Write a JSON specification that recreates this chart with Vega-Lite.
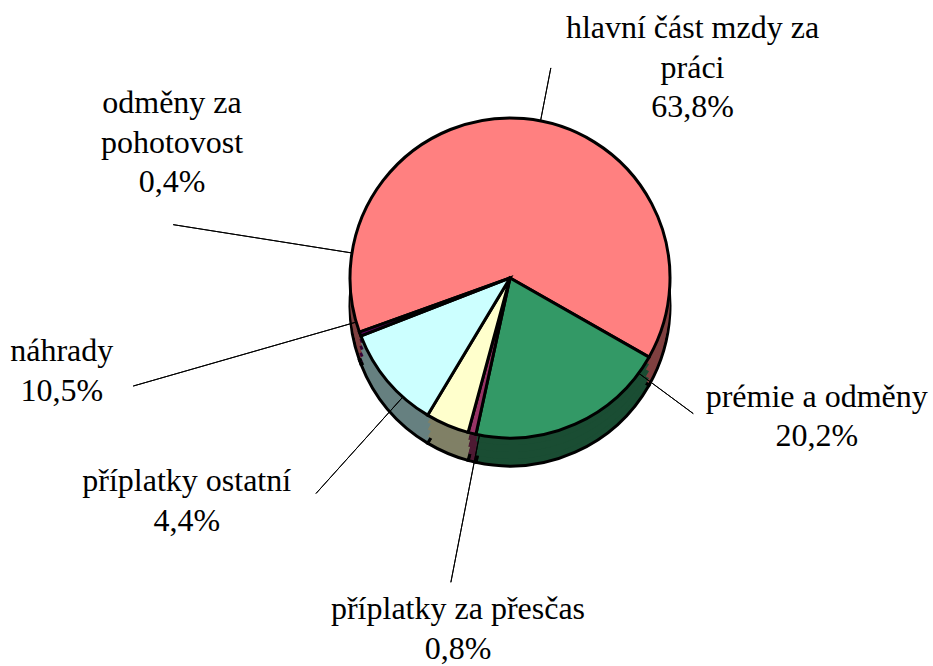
{
  "$schema": "https://vega.github.io/schema/vega-lite/v6.json",
  "autosize": {"type": "none"},
  "width": 846,
  "height": 556,
  "padding": {"left": 87, "top": 0, "right": 0, "bottom": 110},
  "background": "white",
  "config": {"view": {"stroke": null}},
  "data": {
    "values": [
      {"order": 1, "name": "hlavní část mzdy za práci", "value": 63.8, "label": "hlavní část mzdy za\npráci\n63,8%"},
      {"order": 2, "name": "prémie a odměny", "value": 20.2, "label": "prémie a odměny\n20,2%"},
      {"order": 3, "name": "příplatky za přesčas", "value": 0.8, "label": "příplatky  za přesčas\n0,8%"},
      {"order": 4, "name": "příplatky ostatní", "value": 4.4, "label": "příplatky ostatní\n4,4%"},
      {"order": 5, "name": "náhrady", "value": 10.5, "label": "náhrady\n10,5%"},
      {"order": 6, "name": "odměny za pohotovost", "value": 0.4, "label": "odměny za\npohotovost\n0,4%"}
    ]
  },
  "layer": [
    {
      "mark": {"type": "arc", "outerRadius": 160, "yOffset": 28, "stroke": "black", "strokeWidth": 3},
      "encoding": {
        "theta": {"field": "value", "type": "quantitative", "stack": true, "scale": {"domain": [0, 100.1], "range": [4.36681, 10.65]}},
        "order": {"field": "order", "type": "quantitative"},
        "color": {"field": "name", "type": "nominal", "legend": null, "scale": {"domain": ["hlavní část mzdy za práci", "prémie a odměny", "příplatky za přesčas", "příplatky ostatní", "náhrady", "odměny za pohotovost"], "range": ["#804040", "#1A4D33", "#4D1A33", "#808066", "#668080", "#330033"]}}
      }
    },
    {
      "mark": {"type": "arc", "outerRadius": 160, "yOffset": 21},
      "encoding": {
        "theta": {"field": "value", "type": "quantitative", "stack": true, "scale": {"domain": [0, 100.1], "range": [4.36681, 10.65]}},
        "order": {"field": "order", "type": "quantitative"},
        "color": {"field": "name", "type": "nominal", "legend": null, "scale": {"domain": ["hlavní část mzdy za práci", "prémie a odměny", "příplatky za přesčas", "příplatky ostatní", "náhrady", "odměny za pohotovost"], "range": ["#804040", "#1A4D33", "#4D1A33", "#808066", "#668080", "#330033"]}}
      }
    },
    {
      "mark": {"type": "arc", "outerRadius": 160, "yOffset": 14},
      "encoding": {
        "theta": {"field": "value", "type": "quantitative", "stack": true, "scale": {"domain": [0, 100.1], "range": [4.36681, 10.65]}},
        "order": {"field": "order", "type": "quantitative"},
        "color": {"field": "name", "type": "nominal", "legend": null, "scale": {"domain": ["hlavní část mzdy za práci", "prémie a odměny", "příplatky za přesčas", "příplatky ostatní", "náhrady", "odměny za pohotovost"], "range": ["#804040", "#1A4D33", "#4D1A33", "#808066", "#668080", "#330033"]}}
      }
    },
    {
      "mark": {"type": "arc", "outerRadius": 160, "yOffset": 7},
      "encoding": {
        "theta": {"field": "value", "type": "quantitative", "stack": true, "scale": {"domain": [0, 100.1], "range": [4.36681, 10.65]}},
        "order": {"field": "order", "type": "quantitative"},
        "color": {"field": "name", "type": "nominal", "legend": null, "scale": {"domain": ["hlavní část mzdy za práci", "prémie a odměny", "příplatky za přesčas", "příplatky ostatní", "náhrady", "odměny za pohotovost"], "range": ["#804040", "#1A4D33", "#4D1A33", "#808066", "#668080", "#330033"]}}
      }
    },
    {
      "transform": [{"stack": "value", "groupby": [], "sort": [{"field": "order", "order": "ascending"}], "as": ["v0", "v1"]}],
      "mark": {
        "type": "arc",
        "filled": false,
        "stroke": "black",
        "strokeWidth": 1,
        "innerRadius": 100,
        "outerRadius": {"expr": "[214, 228, 310, 290, 392, 341][datum.order - 1]"},
        "thetaOffset": {"expr": "[-239.2, 6.85, -1.3, 26.82, 43.0, 30.24][datum.order - 1] * PI / 180"},
        "theta2Offset": {"expr": "[-239.2, 6.85, -1.3, 26.82, 43.0, 30.24][datum.order - 1] * PI / 180"}
      },
      "encoding": {
        "theta": {"field": "v0", "type": "quantitative", "scale": {"domain": [0, 100.1], "range": [4.36681, 10.65]}},
        "theta2": {"field": "v0"}
      }
    },
    {
      "mark": {"type": "arc", "outerRadius": 160, "stroke": "black", "strokeWidth": 3},
      "encoding": {
        "theta": {"field": "value", "type": "quantitative", "stack": true, "scale": {"domain": [0, 100.1], "range": [4.36681, 10.65]}},
        "order": {"field": "order", "type": "quantitative"},
        "color": {"field": "name", "type": "nominal", "legend": null, "scale": {"domain": ["hlavní část mzdy za práci", "prémie a odměny", "příplatky za přesčas", "příplatky ostatní", "náhrady", "odměny za pohotovost"], "range": ["#FF8080", "#339966", "#993366", "#FFFFCC", "#CCFFFF", "#660066"]}}
      }
    },
    {
      "mark": {
        "type": "text",
        "font": "Liberation Serif",
        "fontSize": 32,
        "lineHeight": 39.5,
        "lineBreak": "\n",
        "align": "center",
        "baseline": "middle",
        "fill": "black",
        "radius": {"expr": "[309.4, 328.9, 335.06, 381.9, 454.2, 380.4][datum.order - 1]"},
        "thetaOffset": {"expr": "[31.22, -44.82, -4.81, 34.75, 30.84, 47.83][datum.order - 1] * PI / 180"}
      },
      "encoding": {
        "theta": {"field": "value", "type": "quantitative", "stack": true, "scale": {"domain": [0, 100.1], "range": [4.36681, 10.65]}},
        "order": {"field": "order", "type": "quantitative"},
        "text": {"field": "label", "type": "nominal"}
      }
    }
  ],
  "resolve": {"scale": {"color": "independent"}}
}
